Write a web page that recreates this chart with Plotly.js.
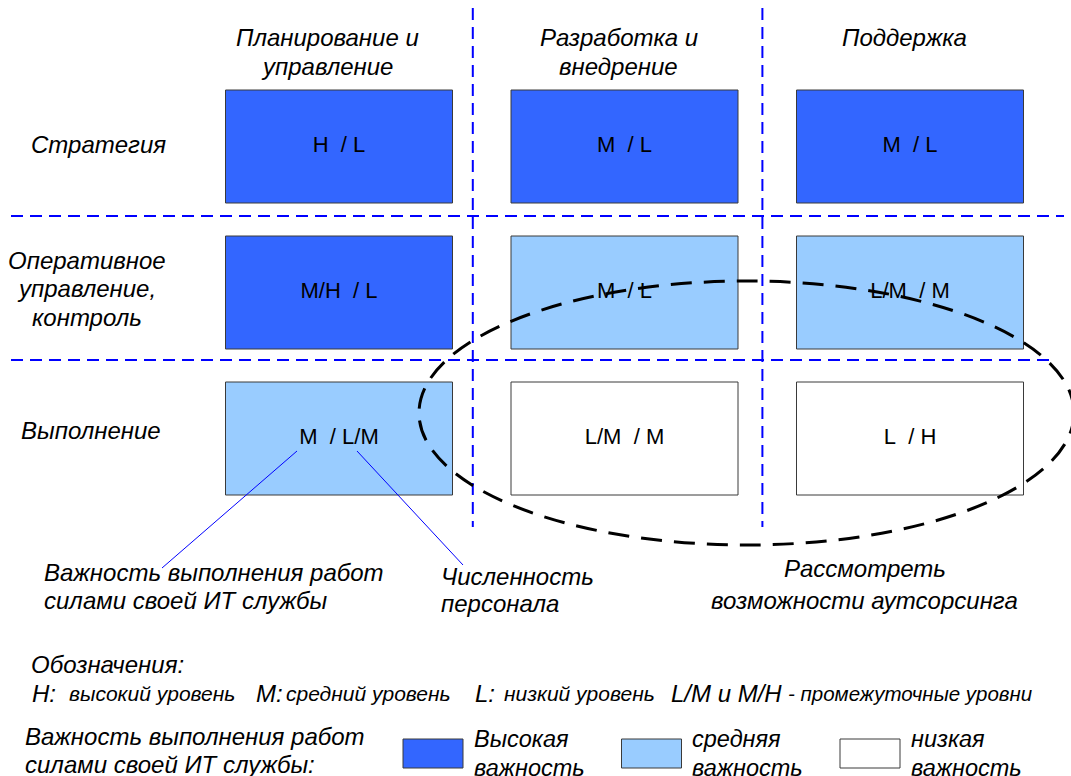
<!DOCTYPE html>
<html>
<head>
<meta charset="utf-8">
<script src="https://cdn.plot.ly/plotly-3.0.1.min.js"></script>
<style>html,body{margin:0;padding:0;background:#fff;}#chart{width:1071px;height:776px;}</style>
</head>
<body>
<div id="chart"></div>
<script>
// ---------- data ----------
const columns = ['Планирование и<br>управление', 'Разработка и<br>внедрение', 'Поддержка'];
const rows = ['Стратегия', 'Оперативное<br>управление,<br>контроль', 'Выполнение'];
const cellLabels = [
  ['H\u00a0 / L',   'M\u00a0 / L',   'M\u00a0 / L'],
  ['M/H\u00a0 / L', 'M\u00a0 / L',   'L/M\u00a0 / M'],
  ['M\u00a0 / L/M', 'L/M\u00a0 / M', 'L\u00a0 / H']
];
const importance = [
  ['high',   'high',   'high'],
  ['high',   'medium', 'medium'],
  ['medium', 'low',    'low']
];
const levelOrder = ['high', 'medium', 'low'];
const levelNames = ['Высокая<br>важность', 'средняя<br>важность', 'низкая<br>важность'];
const calloutLeft = 'Важность выполнения работ<br>силами своей ИТ службы';
const calloutMid = 'Численность<br>персонала';
const calloutRight = 'Рассмотреть<br>возможности аутсорсинга';
const notationTitle = 'Обозначения:';
const notationParts = ['H:', 'высокий уровень', 'M:', 'средний уровень', 'L:', 'низкий уровень', 'L/M и M/H', '- промежуточные уровни'];
const legendTitle = 'Важность выполнения работ<br>силами своей ИТ службы:';

// ---------- layout / style ----------
const FONT = 'Liberation Sans, Arial, sans-serif';
const FILL = {high: '#3366FF', medium: '#99CCFF', low: '#FFFFFF'};
const G = {cx0: 339, dcx: 285.5, cy0: 146.5, dcy: 146, w: 227, h: 113};
const colX = i => G.cx0 + G.dcx * i;
const rowY = j => G.cy0 + G.dcy * j;
const PAD = 2.5; // annotation inner padding for left-anchored text

const shapes = [];
// separators (blue dashed)
const sepStyle = {color: '#0000FF', width: 2, dash: '12px,7px'};
[472.8, 762.4].forEach(x => shapes.push({type: 'line', xref: 'x', yref: 'y', x0: x, x1: x, y0: 8, y1: 527, line: sepStyle}));
[[216, 1064], [360, 1055]].forEach(([y, xe]) => shapes.push({type: 'line', xref: 'x', yref: 'y', x0: 11, x1: xe, y0: y, y1: y, line: sepStyle}));

// cells
importance.forEach((r, j) => r.forEach((lvl, i) => {
  shapes.push({type: 'rect', xref: 'x', yref: 'y', layer: 'below',
    x0: colX(i) - G.w / 2, x1: colX(i) + G.w / 2,
    y0: rowY(j) - G.h / 2, y1: rowY(j) + G.h / 2,
    fillcolor: FILL[lvl], line: {color: '#3a3a3a', width: 1}});
}));

// callout leader lines
shapes.push({type: 'line', xref: 'x', yref: 'y', x0: 297, y0: 451, x1: 162, y1: 568, line: {color: '#0000FF', width: 1}});
shapes.push({type: 'line', xref: 'x', yref: 'y', x0: 357, y0: 451, x1: 463, y1: 565, line: {color: '#0000FF', width: 1}});

// outsourcing ellipse
shapes.push({type: 'circle', xref: 'x', yref: 'y', x0: 419, x1: 1074, y0: 281, y1: 545,
  line: {color: '#000000', width: 3, dash: '21px,12px'}, fillcolor: 'rgba(0,0,0,0)'});

// legend boxes
levelOrder.forEach((lvl, k) => {
  shapes.push({type: 'rect', xref: 'x', yref: 'y', x0: 403 + 218.5 * k, x1: 463 + 218.5 * k, y0: 739, y1: 768,
    fillcolor: FILL[lvl], line: {color: '#3a3a3a', width: 1}});
});

const it = (size) => ({family: FONT, size: size, color: '#000', style: 'italic'});
const annotations = [];
// multi-line text: each line as its own annotation (first line centre y0, spacing lh)
function addText(text, x, y0, lh, font, anchor) {
  text.split('<br>').forEach((line, k) => annotations.push({
    text: line, x: anchor === 'left' ? x - PAD : x, y: y0 + lh * k, xref: 'x', yref: 'y',
    xanchor: anchor, yanchor: 'middle', showarrow: false, font: font, align: anchor}));
}
const HEAD_X = [327, 618.5, 904];
columns.forEach((c, i) => addText(c, HEAD_X[i], 37.5, 29.4, it(24), 'center'));
const ROW_X = [98, 86.5, 90.5];
const ROW_Y = [144, 260, 430];
rows.forEach((r, j) => addText(r, ROW_X[j], ROW_Y[j], 28.6, it(24), 'center'));

addText(calloutLeft, 44, 572, 28.3, it(24), 'left');
addText(calloutMid, 441, 576.5, 27, it(24), 'left');
addText(calloutRight, 864.5, 568.5, 31.5, it(24), 'center');

addText(notationTitle, 31.7, 664, 0, it(24), 'left');
const NOTE_X = [32, 69, 256, 286, 475, 504, 671, 788];
const NOTE_SIZE = [24, 21, 24, 21, 24, 21, 24, 20.5];
notationParts.forEach((t, k) => addText(t, NOTE_X[k], 693, 0, it(NOTE_SIZE[k]), 'left'));

addText(legendTitle, 25.8, 736, 28, it(24), 'left');
levelNames.forEach((t, k) => addText(t, 474 + 218.5 * k, 739, 28.5, it(23.5), 'left'));

// cell labels as a text trace
const tx = [], ty = [], tt = [];
cellLabels.forEach((r, j) => r.forEach((lab, i) => { tx.push(colX(i)); ty.push(rowY(j)); tt.push(lab); }));
const traces = [{type: 'scatter', mode: 'text', x: tx, y: ty, text: tt, textposition: 'middle center',
  textfont: {family: FONT, size: 22, color: '#000'}, hoverinfo: 'skip', showlegend: false}];

const layout = {
  width: 1071, height: 776, margin: {l: 0, r: 0, t: 0, b: 0},
  paper_bgcolor: '#fff', plot_bgcolor: '#fff', showlegend: false,
  xaxis: {range: [0, 1071], visible: false, fixedrange: true},
  yaxis: {range: [776, 0], visible: false, fixedrange: true},
  shapes: shapes, annotations: annotations
};
Plotly.newPlot('chart', traces, layout, {staticPlot: true});
</script>
</body>
</html>
